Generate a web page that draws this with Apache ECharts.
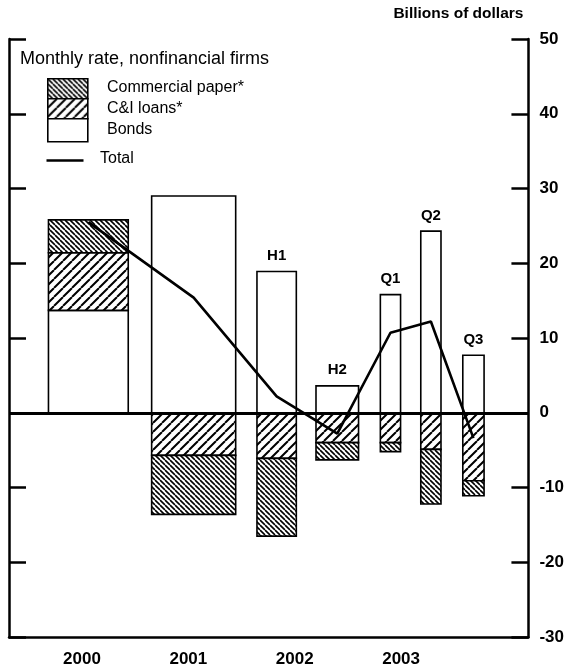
<!DOCTYPE html>
<html><head><meta charset="utf-8">
<script src="https://cdn.jsdelivr.net/npm/echarts@6/dist/echarts.min.js"></script>
<style>html,body{margin:0;padding:0;background:#fff}#c{width:567px;height:669px}</style>
</head><body><div id="c"></div>
<script>
// ---- data ----
const periods = ['2000', '2001', '2002 H1', '2002 H2', '2003 Q1', '2003 Q2', '2003 Q3'];
const periodTags = ['', '', 'H1', 'H2', 'Q1', 'Q2', 'Q3'];
const yearLabels = [2000, 2001, 2002, 2003];
const bonds = [13.7, 29.0, 18.9, 3.6, 15.8, 24.3, 7.7];
const ciLoans = [7.7, -5.7, -6.1, -4.0, -4.0, -4.9, -9.1];
const commercialPaper = [4.4, -7.9, -10.4, -2.3, -1.2, -7.3, -2.0];
const total = [25.5, 15.4, 2.2, -2.8, 10.7, 12.2, -3.4];
const yMin = -30, yMax = 50, yStep = 10;

// ---- layout (position of each period on the time axis, and bar widths in years) ----
const periodPos = [2000.06, 2001.05, 2001.83, 2002.40, 2002.90, 2003.28, 2003.68];
const periodWidth = [0.75, 0.79, 0.37, 0.40, 0.19, 0.19, 0.20];
const xMin = 1999.314, xMax = 2004.197;

const FONT = '"Liberation Sans", Arial, Helvetica, sans-serif';

function hatch(p, dir, lw) {
  const c = document.createElement('canvas');
  c.width = p; c.height = p;
  const g = c.getContext('2d');
  g.fillStyle = '#fff'; g.fillRect(0, 0, p, p);
  g.strokeStyle = '#000'; g.lineWidth = lw; g.beginPath();
  for (let k = -1; k <= 1; k++) {
    if (dir === '\\') { g.moveTo(k * p, 0); g.lineTo(k * p + p, p); }
    else { g.moveTo(k * p, p); g.lineTo(k * p + p, 0); }
  }
  g.stroke();
  return c;
}
const cpFill = { image: hatch(5, '\\', 1.6), repeat: 'repeat' };
const ciFill = { image: hatch(9, '/', 2.0), repeat: 'repeat' };
const bondFill = '#fff';

// stacking of components
const segs = { bonds: [], ci: [], cp: [] };
periods.forEach((p, i) => {
  let pos = 0, neg = 0;
  const add = (key, v) => {
    if (v >= 0) { segs[key].push([pos, pos + v]); pos += v; }
    else { segs[key].push([neg, neg + v]); neg += v; }
  };
  add('bonds', bonds[i]);
  add('ci', ciLoans[i]);
  add('cp', commercialPaper[i]);
});

function barSeries(name, key, fill, withTags) {
  return {
    type: 'custom',
    name: name,
    xAxisIndex: 0, yAxisIndex: 0,
    z: 2,
    data: periods.map((p, i) => [periodPos[i], segs[key][i][0], segs[key][i][1], periodWidth[i], i]),
    encode: { x: 0, y: [1, 2] },
    renderItem(params, api) {
      const x = api.value(0), lo = api.value(1), hi = api.value(2), w = api.value(3), idx = api.value(4);
      const pHi = api.coord([x, hi]), pLo = api.coord([x, lo]);
      const wp = api.size([w, 0])[0];
      const children = [];
      if (Math.abs(hi - lo) > 1e-9) {
        children.push({
          type: 'rect',
          shape: { x: pHi[0] - wp / 2, y: Math.min(pHi[1], pLo[1]), width: wp, height: Math.abs(pHi[1] - pLo[1]) },
          style: { fill: fill, stroke: '#000', lineWidth: 1.6 }
        });
      }
      if (withTags && periodTags[idx]) {
        children.push({
          type: 'text',
          x: pHi[0], y: Math.min(pHi[1], pLo[1]) - 8,
          style: { text: periodTags[idx], align: 'center', verticalAlign: 'bottom',
                   font: 'bold 15px ' + FONT, fill: '#000' }
        });
      }
      return { type: 'group', children: children };
    }
  };
}

const chart = echarts.init(document.getElementById('c'), null, { renderer: 'canvas' });

const legendX = 47, legendY = 78;
const option = {
  backgroundColor: '#fff',
  animation: false,
  grid: { left: 9, right: 37, top: 39, bottom: 32, containLabel: false },
  xAxis: [{
    type: 'value', min: xMin, max: xMax, position: 'bottom',
    axisLine: { show: true, onZero: false, lineStyle: { color: '#000', width: 2.5 } },
    axisTick: { show: false },
    splitLine: { show: false },
    axisLabel: {
      customValues: yearLabels, margin: 14, color: '#000',
      fontFamily: FONT, fontWeight: 'bold', fontSize: 17,
      formatter: v => String(Math.round(v))
    }
  }],
  yAxis: [{
    type: 'value', position: 'right', min: yMin, max: yMax, interval: yStep,
    name: 'Billions of dollars', nameLocation: 'end', nameGap: 17,
    nameTextStyle: { align: 'right', color: '#000', fontFamily: FONT, fontWeight: 'bold', fontSize: 15.5, padding: [0, 5, 0, 0] },
    axisLine: { show: true, lineStyle: { color: '#000', width: 2.5 } },
    axisTick: { show: true, inside: true, length: 17, lineStyle: { color: '#000', width: 2.5 } },
    axisLabel: { color: '#000', fontFamily: FONT, fontWeight: 'bold', fontSize: 17, margin: 11 },
    splitLine: { show: false }
  }, {
    type: 'value', position: 'left', min: yMin, max: yMax, interval: yStep,
    axisLine: { show: true, lineStyle: { color: '#000', width: 2.5 } },
    axisTick: { show: true, inside: true, length: 17, lineStyle: { color: '#000', width: 2.5 } },
    axisLabel: { show: false },
    splitLine: { show: false }
  }],
  series: [
    barSeries('Bonds', 'bonds', bondFill, true),
    barSeries('C&I loans', 'ci', ciFill, false),
    barSeries('Commercial paper', 'cp', cpFill, false),
    {
      type: 'line', name: 'Total', z: 5,
      data: periods.map((p, i) => [periodPos[i], total[i]]),
      symbol: 'none',
      lineStyle: { color: '#000', width: 2.6 },
      markLine: {
        silent: true, symbol: ['none', 'none'], label: { show: false },
        lineStyle: { color: '#000', width: 3, type: 'solid' },
        data: [{ yAxis: 0 }]
      }
    }
  ],
  graphic: [
    { type: 'text', left: 20, top: 50, style: { text: 'Monthly rate, nonfinancial firms', font: '18px ' + FONT, fill: '#000' } },
    { type: 'rect', left: legendX, top: legendY, shape: { width: 40, height: 20 }, style: { fill: cpFill, stroke: '#000', lineWidth: 1.6 } },
    { type: 'rect', left: legendX, top: legendY + 20, shape: { width: 40, height: 20 }, style: { fill: ciFill, stroke: '#000', lineWidth: 1.6 } },
    { type: 'rect', left: legendX, top: legendY + 40, shape: { width: 40, height: 23 }, style: { fill: bondFill, stroke: '#000', lineWidth: 1.6 } },
    { type: 'line', left: 44, top: 158, shape: { x1: 0, y1: 0, x2: 37, y2: 0 }, style: { stroke: '#000', lineWidth: 2.6 } },
    { type: 'text', left: 107, top: 80, style: { text: 'Commercial paper*', font: '16px ' + FONT, fill: '#000' } },
    { type: 'text', left: 107, top: 101, style: { text: 'C&I loans*', font: '16px ' + FONT, fill: '#000' } },
    { type: 'text', left: 107, top: 122, style: { text: 'Bonds', font: '16px ' + FONT, fill: '#000' } },
    { type: 'text', left: 100, top: 151, style: { text: 'Total', font: '16px ' + FONT, fill: '#000' } }
  ]
};
chart.setOption(option);
</script>
</body></html>
